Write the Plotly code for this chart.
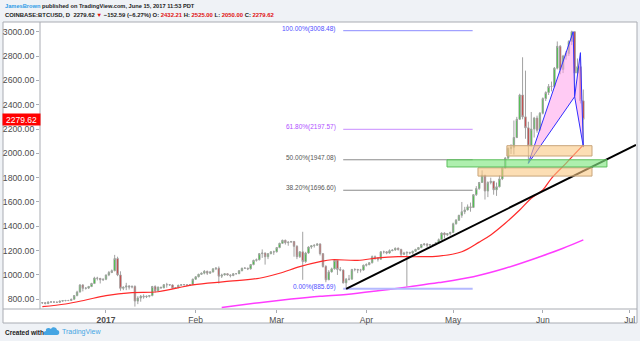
import plotly.graph_objects as go
import pandas as pd

# ---------------- data ----------------
dates = pd.date_range("2016-12-10", "2017-06-15", freq="D")

opens_dec = [770, 772, 765, 778, 778, 777, 775, 785, 789, 790, 790, 800, 830, 860, 917, 890, 892, 905, 930, 975, 972, 960]
closes_dec = [772, 765, 778, 778, 777, 775, 785, 789, 790, 790, 800, 830, 860, 917, 890, 892, 905, 930, 975, 972, 960, 965]
highs_dec = [775, 775, 782, 785, 782, 780, 790, 792, 795, 795, 805, 835, 870, 925, 925, 900, 910, 935, 985, 985, 975, 970]
lows_dec = [762, 758, 760, 770, 772, 770, 772, 780, 783, 785, 788, 798, 825, 855, 865, 880, 885, 900, 925, 955, 930, 950]

opens_jan = [965, 1000, 1020, 1035, 1135, 1000, 890, 900, 910, 900, 905, 785, 810, 825, 820, 825, 830, 905, 870, 900, 895, 920, 920, 918, 890, 895, 915, 920, 920, 915, 920]
closes_jan = [1000, 1020, 1035, 1135, 1000, 890, 900, 910, 900, 905, 785, 810, 825, 820, 825, 830, 905, 870, 900, 895, 920, 920, 918, 890, 895, 915, 920, 920, 915, 920, 965]
highs_jan = [1003, 1033, 1045, 1165, 1150, 1030, 905, 935, 915, 915, 915, 825, 835, 840, 830, 835, 910, 915, 905, 900, 925, 935, 925, 922, 900, 920, 924, 925, 922, 925, 970]
lows_jan = [957, 990, 1015, 1030, 990, 870, 875, 875, 880, 890, 740, 760, 780, 805, 810, 815, 825, 855, 865, 885, 890, 895, 910, 885, 885, 892, 912, 915, 910, 910, 918]

opens_feb = [965, 985, 1005, 1015, 1030, 1015, 1025, 1050, 1055, 990, 1000, 1010, 1000, 995, 1010, 1010, 1035, 1055, 1055, 1050, 1085, 1120, 1125, 1175, 1180, 1150, 1175, 1190]
closes_feb = [985, 1005, 1015, 1030, 1015, 1025, 1050, 1055, 990, 1000, 1010, 1000, 995, 1010, 1010, 1035, 1055, 1055, 1050, 1085, 1120, 1125, 1175, 1180, 1150, 1175, 1190, 1190]
highs_feb = [990, 1010, 1020, 1040, 1035, 1030, 1055, 1065, 1070, 1010, 1015, 1012, 1005, 1015, 1015, 1040, 1060, 1065, 1060, 1090, 1125, 1135, 1180, 1210, 1185, 1180, 1195, 1200]
lows_feb = [960, 980, 1000, 1005, 1000, 1010, 1020, 1040, 930, 975, 995, 995, 980, 990, 1005, 1008, 1030, 1050, 1040, 1045, 1080, 1110, 1120, 1140, 1085, 1130, 1170, 1165]

opens_mar = [1190, 1225, 1260, 1285, 1265, 1270, 1275, 1235, 1150, 1190, 1110, 1180, 1230, 1240, 1245, 1255, 1175, 1070, 960, 1025, 1050, 1120, 1045, 1040, 935, 965, 965, 1045, 1045, 1040, 1040]
closes_mar = [1225, 1260, 1285, 1265, 1270, 1275, 1235, 1150, 1190, 1110, 1180, 1230, 1240, 1245, 1255, 1175, 1070, 960, 1025, 1050, 1120, 1045, 1040, 935, 965, 965, 1045, 1045, 1040, 1040, 1080]
highs_mar = [1230, 1265, 1290, 1290, 1275, 1280, 1280, 1245, 1195, 1355, 1190, 1235, 1245, 1250, 1260, 1260, 1180, 1080, 1040, 1060, 1125, 1120, 1065, 1045, 975, 1000, 1050, 1055, 1050, 1050, 1085]
lows_mar = [1185, 1220, 1255, 1250, 1240, 1265, 1150, 1130, 1140, 960, 1100, 1175, 1215, 1225, 1240, 1160, 1060, 940, 960, 1020, 1045, 1000, 1030, 930, 885.69, 955, 965, 1030, 1015, 1020, 1035]

opens_apr = [1080, 1085, 1100, 1150, 1140, 1130, 1190, 1190, 1180, 1200, 1205, 1220, 1210, 1170, 1180, 1185, 1180, 1195, 1210, 1225, 1250, 1255, 1245, 1250, 1250, 1265, 1290, 1345, 1330, 1340]
closes_apr = [1085, 1100, 1150, 1140, 1130, 1190, 1190, 1180, 1200, 1205, 1220, 1210, 1170, 1180, 1185, 1180, 1195, 1210, 1225, 1250, 1255, 1245, 1250, 1250, 1265, 1290, 1345, 1330, 1340, 1350]
highs_apr = [1095, 1105, 1160, 1160, 1145, 1195, 1200, 1195, 1210, 1210, 1225, 1225, 1215, 1190, 1195, 1190, 1200, 1215, 1230, 1255, 1260, 1260, 1255, 1255, 1270, 1300, 1350, 1350, 1345, 1355]
lows_apr = [1070, 1080, 1095, 1125, 1110, 1125, 1175, 1170, 1175, 1195, 1200, 1200, 1155, 1165, 905, 1170, 1170, 1190, 1205, 1220, 1240, 1225, 1235, 1240, 1245, 1260, 1285, 1300, 1320, 1325]

opens_may = [1350, 1420, 1450, 1490, 1520, 1535, 1560, 1555, 1660, 1710, 1760, 1820, 1690, 1760, 1770, 1700, 1725, 1790, 1880, 1960, 2040, 2050, 2130, 2280, 2480, 2300, 2210, 2060, 2200, 2290, 2190]
closes_may = [1420, 1450, 1490, 1520, 1535, 1560, 1555, 1660, 1710, 1760, 1820, 1690, 1760, 1770, 1700, 1725, 1790, 1880, 1960, 2040, 2050, 2130, 2280, 2480, 2300, 2210, 2060, 2200, 2290, 2190, 2330]
highs_may = [1430, 1460, 1495, 1600, 1560, 1580, 1595, 1665, 1730, 1765, 1860, 1820, 1770, 1800, 1770, 1760, 1820, 1885, 1970, 2050, 2075, 2270, 2300, 2490, 2790, 2680, 2260, 2340, 2300, 2310, 2340]
lows_may = [1345, 1415, 1445, 1470, 1500, 1530, 1520, 1550, 1650, 1700, 1760, 1620, 1640, 1745, 1660, 1650, 1720, 1780, 1875, 1955, 1995, 1990, 2125, 2275, 2280, 2120, 1915, 2060, 2130, 2170, 2190]

opens_jun = [2330, 2450, 2500, 2550, 2550, 2700, 2880, 2690, 2800, 2820, 2920, 3000, 2660, 2713, 2432.21]
closes_jun = [2450, 2500, 2550, 2550, 2700, 2880, 2690, 2800, 2820, 2920, 3000, 2660, 2713, 2432.21, 2279.62]
highs_jun = [2460, 2510, 2570, 2590, 2710, 2920, 2890, 2810, 2840, 2930, 3008.48, 3000, 2780, 2810, 2525]
lows_jun = [2320, 2430, 2480, 2510, 2540, 2690, 2650, 2660, 2770, 2800, 2890, 2460, 2650, 2410, 2050]

opens = opens_dec + opens_jan + opens_feb + opens_mar + opens_apr + opens_may + opens_jun
highs = highs_dec + highs_jan + highs_feb + highs_mar + highs_apr + highs_may + highs_jun
lows = lows_dec + lows_jan + lows_feb + lows_mar + lows_apr + lows_may + lows_jun
closes = closes_dec + closes_jan + closes_feb + closes_mar + closes_apr + closes_may + closes_jun

# moving averages
ma_red_dates = ["2016-12-10", "2016-12-18", "2016-12-25", "2017-01-01", "2017-01-10", "2017-01-19",
                "2017-01-31", "2017-02-11", "2017-02-23", "2017-03-02", "2017-03-09", "2017-03-16",
                "2017-03-20", "2017-03-29", "2017-04-05", "2017-04-12", "2017-04-19", "2017-04-26",
                "2017-05-04", "2017-05-10", "2017-05-14", "2017-05-19", "2017-05-24", "2017-05-28",
                "2017-06-01", "2017-06-04", "2017-06-09", "2017-06-15"]
ma_red_vals = [739, 761, 794, 830, 855, 862, 918, 945, 973, 1014, 1068, 1109, 1125, 1120, 1140, 1150,
               1150, 1155, 1191, 1270, 1329, 1425, 1534, 1631, 1699, 1795, 1918, 2069]

ma_mag_dates = ["2017-02-10", "2017-02-23", "2017-03-06", "2017-03-16", "2017-03-25", "2017-04-05",
                "2017-04-16", "2017-04-26", "2017-05-08", "2017-05-19", "2017-05-31", "2017-06-08", "2017-06-15"]
ma_mag_vals = [733, 772, 802, 825, 840, 870, 904, 937, 986, 1055, 1150, 1219, 1288]

# trend line
trend_dates = ["2017-03-25", "2017-07-03 05:00"]
trend_vals = [885.69, 2069]

# fibonacci retracement
fib_levels = [3008.48, 2197.57, 1947.08, 1696.60, 885.69]
fib_labels = ["100.00%(3008.48)", "61.80%(2197.57)", "50.00%(1947.08)", "38.20%(1696.60)", "0.00%(885.69)"]
fib_line_colors = ["#8c8cff", "#c98cff", "#8a8a8a", "#8a8a8a", "#b4b9ff"]
fib_text_colors = ["#5050ff", "#b050ff", "#555555", "#555555", "#5050ff"]
fib_widths = [1, 1, 1, 1, 2]
fib_start, fib_end = "2017-03-24", "2017-05-07 18:00"

# harmonic pattern X A B C D
pat_dates = ["2017-05-27", "2017-06-11 12:00", "2017-06-12", "2017-06-14", "2017-06-15"]
pat_vals = [1918, 3000, 2466, 2828, 2055]

# zones
green_zone = dict(x0="2017-04-28 21:00", x1="2017-06-23 04:00", y0=1888, y1=1947)
orange_zones = [dict(x0="2017-05-19 14:00", x1="2017-06-18", y0=1978, y1=2063),
                dict(x0="2017-05-09 14:00", x1="2017-06-18", y0=1813, y1=1881)]

month_ticks = ["2017-01-01", "2017-02-01", "2017-03-01", "2017-04-01", "2017-05-01", "2017-06-01", "2017-07-01"]
month_text = ["<b>2017</b>", "Feb", "Mar", "Apr", "May", "Jun", "Jul"]
price_ticks = [800, 1000, 1200, 1400, 1600, 1800, 2000, 2200, 2400, 2600, 2800, 3000]
last_price = 2279.62

# ---------------- figure ----------------
W, H = 640, 341
L, R, T, B = 40, 4, 22, 32
PW, PH = W - L - R, H - T - B


def px(x):
    return (x - L) / PW


def py(y):
    return (H - B - y) / PH


FONT = "Arial, Liberation Sans, sans-serif"
fig = go.Figure()

shapes = []
shapes.append(dict(type="rect", xref="paper", yref="paper", x0=px(3), x1=px(637), y0=py(323), y1=py(22),
                   fillcolor="white", line=dict(color="#a9acb3", width=1), layer="below"))
for z in orange_zones:
    shapes.append(dict(type="rect", xref="x", yref="y", layer="above", fillcolor="rgba(250,200,130,0.6)",
                       line=dict(color="#c9a57a", width=1), **z))
shapes.append(dict(type="rect", xref="x", yref="y", layer="above", fillcolor="rgba(130,230,130,0.65)",
                   line=dict(color="#5cbf5c", width=1), **green_zone))
shapes.append(dict(type="line", xref="paper", yref="paper", x0=px(40), x1=px(40), y0=py(309), y1=py(22),
                   line=dict(color="#a9acb3", width=1)))
shapes.append(dict(type="line", xref="paper", yref="paper", x0=px(3), x1=px(637), y0=py(309), y1=py(309),
                   line=dict(color="#a9acb3", width=1)))
shapes.append(dict(type="path", xref="paper", yref="paper", xsizemode="pixel", ysizemode="pixel",
                   xanchor=px(51), yanchor=py(332),
                   path="M -6 -3 L 6 -3 C 9 -3 9 2 6 2 C 6 5 1 6 0 3 C -2 5 -6 4 -5 1 C -8 1 -8 -3 -6 -3 Z",
                   fillcolor="#45a5e3", line=dict(width=0)))

fig.add_trace(go.Scatter(x=ma_mag_dates, y=ma_mag_vals, mode="lines", line=dict(color="#ff3cff", width=1.5, shape="spline"),
                         hoverinfo="skip", showlegend=False))
fig.add_trace(go.Scatter(x=ma_red_dates, y=ma_red_vals, mode="lines", line=dict(color="#ff2a2a", width=1.2, shape="spline"),
                         hoverinfo="skip", showlegend=False))

for lvl, c, w in zip(fib_levels, fib_line_colors, fib_widths):
    fig.add_trace(go.Scatter(x=[fib_start, fib_end], y=[lvl, lvl], mode="lines", line=dict(color=c, width=w),
                             hoverinfo="skip", showlegend=False))

fig.add_trace(go.Candlestick(x=dates, open=opens, high=highs, low=lows, close=closes,
                             increasing=dict(fillcolor="#00e000", line=dict(color="#a2a2a2", width=1)),
                             decreasing=dict(fillcolor="#e00000", line=dict(color="#a2a2a2", width=1)),
                             whiskerwidth=0, hoverinfo="skip", showlegend=False))

fig.add_trace(go.Scatter(x=trend_dates, y=trend_vals, mode="lines", line=dict(color="black", width=2),
                         hoverinfo="skip", showlegend=False))

fig.add_trace(go.Scatter(x=[pat_dates[0], pat_dates[1], pat_dates[2], pat_dates[0]],
                         y=[pat_vals[0], pat_vals[1], pat_vals[2], pat_vals[0]],
                         mode="lines", fill="toself", fillcolor="rgba(255,160,235,0.55)",
                         line=dict(color="#3030ff", width=1), hoverinfo="skip", showlegend=False))
fig.add_trace(go.Scatter(x=[pat_dates[2], pat_dates[3], pat_dates[4], pat_dates[2]],
                         y=[pat_vals[2], pat_vals[3], pat_vals[4], pat_vals[2]],
                         mode="lines", fill="toself", fillcolor="rgba(255,160,235,0.55)",
                         line=dict(color="#3030ff", width=1), hoverinfo="skip", showlegend=False))

annotations = []
for lvl, lab, c in zip(fib_levels, fib_labels, fib_text_colors):
    annotations.append(dict(x=fib_start, y=lvl, xref="x", yref="y", text=lab, showarrow=False,
                            xanchor="right", yanchor="middle", xshift=-5, yshift=2,
                            font=dict(family=FONT, size=6.5, color=c)))

annotations.append(dict(x=px(21.5), y=last_price, xref="paper", yref="y", text=str(last_price), showarrow=False,
                        xanchor="center", yanchor="middle", bgcolor="#ff0000", width=35, height=9, borderpad=1,
                        font=dict(family=FONT, size=8.5, color="white")))

red = "#e01010"
annotations.append(dict(x=px(3), y=py(6), xref="paper", yref="paper", xanchor="left", yanchor="middle", showarrow=False,
                        text="<span style='color:#2e9be6'>JamesBrown</span> published on TradingView.com, June 15, 2017 11:53 PDT",
                        font=dict(family=FONT, size=5.7, color="#222222", weight="bold")))
annotations.append(dict(x=px(3), y=py(15), xref="paper", yref="paper", xanchor="left", yanchor="middle", showarrow=False,
                        text=("COINBASE:BTCUSD, D  2279.62 <span style='color:%s'>▼</span> −152.59 (−6.27%%) "
                              "O: <span style='color:%s'>2432.21</span> H: <span style='color:%s'>2525.00</span> "
                              "L: <span style='color:%s'>2050.00</span> C: <span style='color:%s'>2279.62</span>") % (red, red, red, red, red),
                        font=dict(family=FONT, size=5.9, color="#222222", weight="bold")))
annotations.append(dict(x=px(3), y=py(332), xref="paper", yref="paper", xanchor="left", yanchor="middle", showarrow=False,
                        text="<b>Created with</b>", font=dict(family=FONT, size=6.5, color="#222222")))
annotations.append(dict(x=px(60), y=py(332), xref="paper", yref="paper", xanchor="left", yanchor="middle", showarrow=False,
                        text="TradingView", font=dict(family=FONT, size=7, color="#45a5e3")))

fig.update_layout(
    width=W, height=H, margin=dict(l=L, r=R, t=T, b=B, pad=0),
    paper_bgcolor="#eff2f6", plot_bgcolor="white",
    shapes=shapes, annotations=annotations, showlegend=False,
    xaxis=dict(type="date", range=["2016-12-09 04:30", "2017-07-03 05:00"], rangeslider=dict(visible=False),
               showgrid=False, zeroline=False, showline=False, tickmode="array", tickvals=month_ticks,
               ticktext=month_text, ticks="outside", ticklen=3, tickcolor="#a9acb3",
               tickfont=dict(family=FONT, size=8.5, color="#4d4d4d"), fixedrange=True),
    yaxis=dict(range=[720, 3080], showgrid=False, zeroline=False, showline=False, tickmode="array",
               tickvals=price_ticks, ticktext=["%.2f" % v for v in price_ticks], ticks="outside", ticklen=3,
               tickcolor="#a9acb3", tickfont=dict(family=FONT, size=8.7, color="#4d4d4d"), fixedrange=True),
)

fig.write_html("out.html")
